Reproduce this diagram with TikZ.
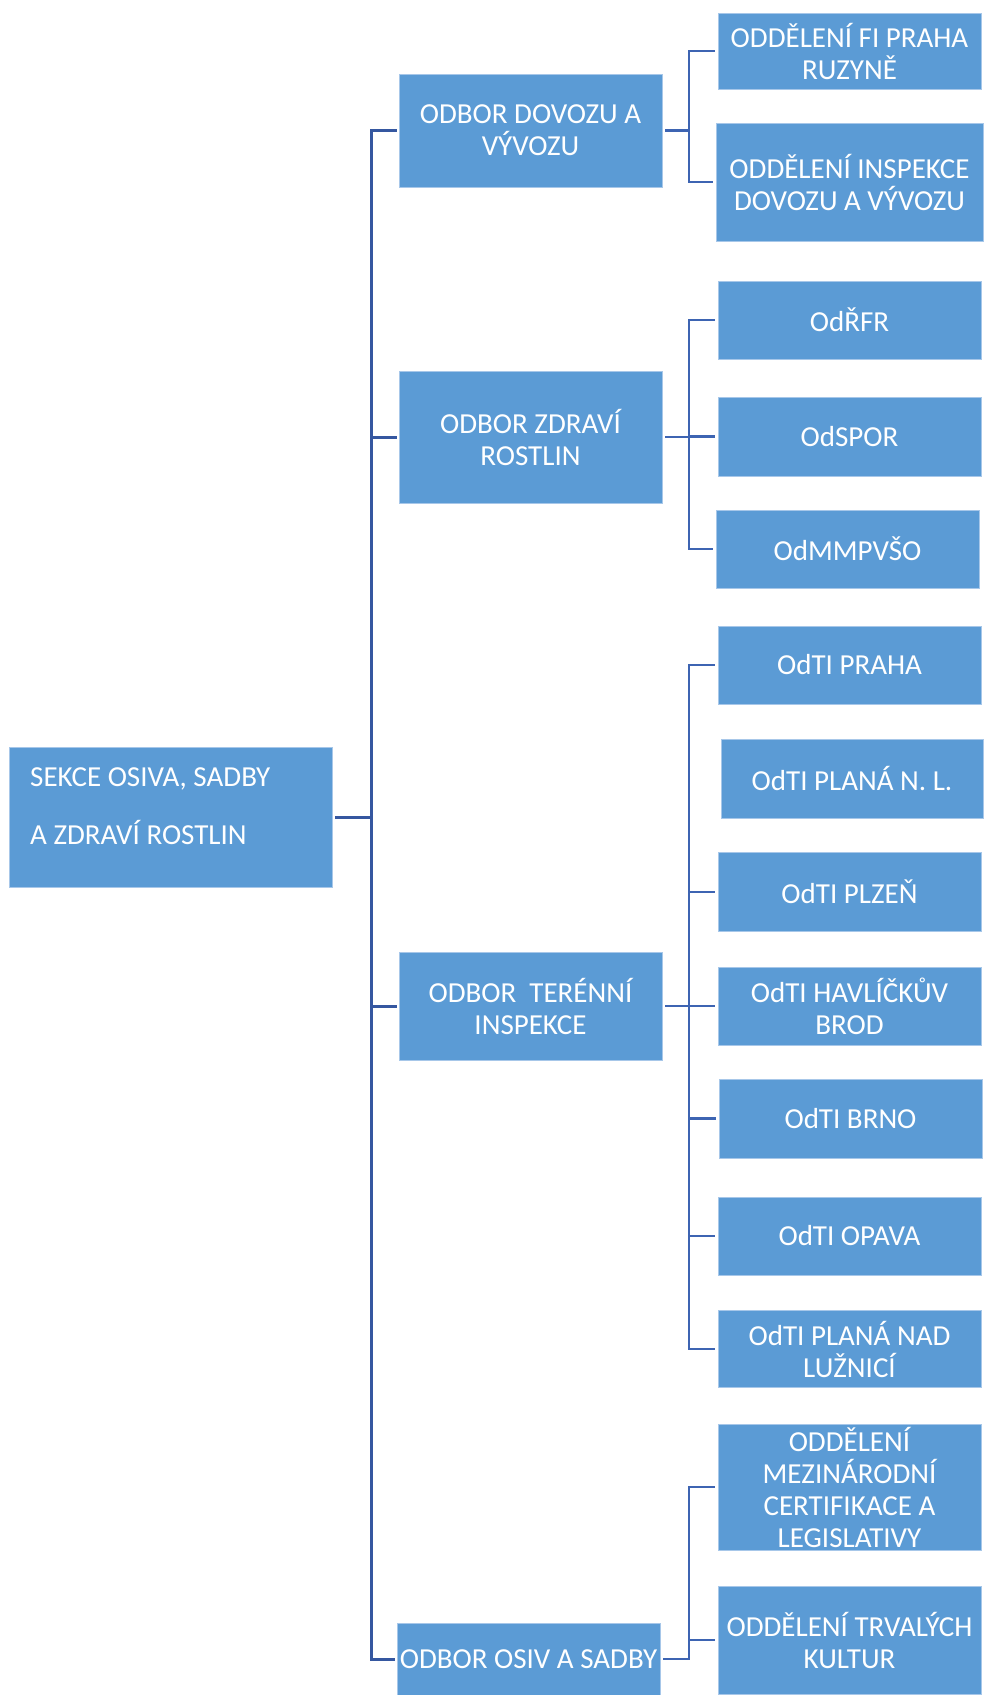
\documentclass[tikz,border=0pt]{standalone}
\usepackage{fontspec}
\setmainfont{Carlito}
\usetikzlibrary{calc}
\definecolor{boxblue}{HTML}{5B9BD5}
\definecolor{boxedge}{HTML}{A7C7E9}
\definecolor{mainline}{HTML}{3557A0}
\definecolor{subline}{HTML}{3D64B2}
\tikzset{
  box/.style={fill=boxblue, draw=boxedge, line width=0.8pt, inner sep=0pt, text=white,
    align=center, font=\fontsize{29}{32}\selectfont},
  mainconn/.style={draw=mainline, line width=3pt},
  subconn/.style={draw=subline, line width=2.6pt},
}
\begin{document}
\begin{tikzpicture}[x=1pt,y=-1pt]
\useasboundingbox (0,0) rectangle (983,1695);
% level 0
\node[box, minimum width=323, minimum height=140] (sek) at (170.5,817) {};
\node[anchor=west, align=left, text=white, inner sep=0pt, font=\fontsize{29}{32}\selectfont] (sektxt) at (30,806) {SEKCE OSIVA, SADBY\\[25.8pt]A ZDRAVÍ ROSTLIN};
% level 1
\node[box, minimum width=263, minimum height=113] (dov) at (530.5,130.5) {ODBOR DOVOZU A\\VÝVOZU};
\node[box, minimum width=263, minimum height=132] (zdr) at (530.5,437) {ODBOR ZDRAVÍ\\ROSTLIN};
\node[box, minimum width=263, minimum height=108] (ter) at (530.5,1006) {ODBOR\ \ TERÉNNÍ\\INSPEKCE};
\node[box, minimum width=263, minimum height=72] (osv) at (528.5,1659) {ODBOR OSIV A SADBY};
% level 2
\node[box, minimum width=263, minimum height=76] (fi) at (849.5,51) {ODDĚLENÍ FI PRAHA\\RUZYNĚ};
\node[box, minimum width=267, minimum height=118] (insp) at (849.5,182) {ODDĚLENÍ INSPEKCE\\DOVOZU A VÝVOZU};
\node[box, minimum width=263, minimum height=78] (rfr) at (849.5,320) {OdŘFR};
\node[box, minimum width=263, minimum height=79] (spor) at (849.5,436.5) {OdSPOR};
\node[box, minimum width=263, minimum height=78] (mmp) at (847.5,549) {OdMMPVŠO};
\node[box, minimum width=263, minimum height=78] (praha) at (849.5,665) {OdTI PRAHA};
\node[box, minimum width=262, minimum height=79] (plnl) at (852,778.5) {OdTI PLANÁ N. L.};
\node[box, minimum width=263, minimum height=79] (plzen) at (849.5,892) {OdTI PLZEŇ};
\node[box, minimum width=263, minimum height=78] (havl) at (849.5,1006) {OdTI HAVLÍČKŮV\\BROD};
\node[box, minimum width=263, minimum height=79] (brno) at (850.5,1118.5) {OdTI BRNO};
\node[box, minimum width=263, minimum height=78] (opava) at (849.5,1236) {OdTI OPAVA};
\node[box, minimum width=263, minimum height=77] (plnad) at (849.5,1349) {OdTI PLANÁ NAD\\LUŽNICÍ};
\node[box, minimum width=263, minimum height=126] (mez) at (849.5,1487) {ODDĚLENÍ\\MEZINÁRODNÍ\\CERTIFIKACE A\\LEGISLATIVY};
\node[box, minimum width=263, minimum height=108] (trv) at (849.5,1640) {ODDĚLENÍ TRVALÝCH\\KULTUR};
% buses
\coordinate (busL) at (371,0);
\coordinate (busR) at (689,0);
% main connectors
\foreach \c in {dov,zdr,ter,osv}{
  \draw[mainconn] ([xshift=3pt]sek.east) -- (sek.east -| busL) |- ([xshift=-2pt]\c.west);
}
% sub connectors
\foreach \p/\c in {dov/fi,dov/insp,zdr/rfr,zdr/spor,zdr/mmp,ter/praha,ter/plzen,ter/havl,ter/brno,ter/opava,ter/plnad,osv/mez,osv/trv}{
  \draw[subconn] ([xshift=3pt]\p.east) -- (\p.east -| busR) |- ([xshift=-3pt]\c.west);
}
\end{tikzpicture}
\end{document}
